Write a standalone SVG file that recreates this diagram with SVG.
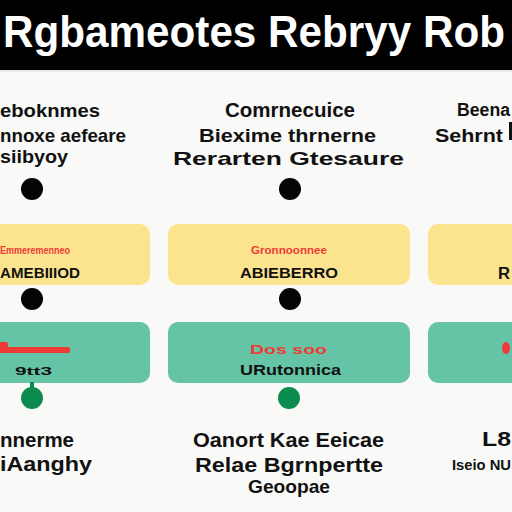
<svg xmlns="http://www.w3.org/2000/svg" width="512" height="512" viewBox="0 0 512 512">
<style>
.t{font-family:"Liberation Sans",Arial,sans-serif;font-weight:bold;fill:#111}
.w{fill:#fff}
.r{fill:#ee3b37}
.y{fill:#fce48f}
.g{fill:#66c4a6}
.bd{fill:#050505}
.gd{fill:#0b8b4d}
</style>
<rect width="512" height="512" fill="#f9f9f7"/>
<g id="header">
<rect x="0" y="0" width="512" height="70" fill="#000"/>
<rect x="0" y="70" width="512" height="2" fill="#e8e8e8"/>
<text class="t w" transform="translate(3,47) scale(1,1.08)" x="0" y="0" font-size="41" textLength="502" lengthAdjust="spacingAndGlyphs">Rgbameotes Rebryy Rob</text>
</g>
<g id="col1-head">
<text class="t" x="0" y="117" font-size="19" textLength="100" lengthAdjust="spacingAndGlyphs">eboknmes</text>
<text class="t" x="0" y="142" font-size="19" textLength="126" lengthAdjust="spacingAndGlyphs">nnoxe aefeare</text>
<text class="t" x="0" y="163" font-size="19" textLength="68" lengthAdjust="spacingAndGlyphs">siibyoy</text>
</g>
<g id="col2-head">
<text class="t" x="225" y="117" font-size="20" textLength="130" lengthAdjust="spacingAndGlyphs">Comrnecuice</text>
<text class="t" x="199" y="142" font-size="19" textLength="177" lengthAdjust="spacingAndGlyphs">Biexime thrnerne</text>
<text class="t" x="173" y="165" font-size="19" textLength="231" lengthAdjust="spacingAndGlyphs">Rerarten Gtesaure</text>
</g>
<g id="col3-head">
<text class="t" x="457" y="116" font-size="18" textLength="53" lengthAdjust="spacingAndGlyphs">Beena</text>
<text class="t" x="435" y="142" font-size="19" textLength="68" lengthAdjust="spacingAndGlyphs">Sehrnt</text>
<rect x="509" y="122" width="3" height="18" fill="#111"/>
</g>
<g id="dot-b1"><circle class="bd" cx="32" cy="189" r="11"/></g>
<g id="dot-b2"><circle class="bd" cx="290" cy="189" r="11"/></g>
<g id="box-y1">
<rect class="y" x="-12" y="224" width="162" height="61" rx="10"/>
<text class="t r" x="0" y="254" font-size="10" textLength="70" lengthAdjust="spacingAndGlyphs">Emmeremenneo</text>
<text class="t" x="0" y="278" font-size="15" textLength="80" lengthAdjust="spacingAndGlyphs">AMEBIIIOD</text>
</g>
<g id="box-y2">
<rect class="y" x="168" y="224" width="242" height="61" rx="10"/>
<text class="t r" x="251" y="254" font-size="10" textLength="76" lengthAdjust="spacingAndGlyphs">Gronnoonnee</text>
<text class="t" x="240" y="278" font-size="15" textLength="98" lengthAdjust="spacingAndGlyphs">ABIEBERRO</text>
</g>
<g id="box-y3">
<rect class="y" x="428" y="224" width="100" height="61" rx="10"/>
<text class="t" x="498" y="279" font-size="16" textLength="12" lengthAdjust="spacingAndGlyphs">R</text>
</g>
<g id="dot-b3"><circle class="bd" cx="32" cy="299" r="11"/></g>
<g id="dot-b4"><circle class="bd" cx="290" cy="299" r="11"/></g>
<g id="box-g1">
<rect class="g" x="-12" y="322" width="162" height="61" rx="10"/>
<rect class="r" x="-2" y="347" width="72" height="6" rx="2"/>
<rect class="r" x="-2" y="342" width="10" height="8" rx="2"/>
<text class="t" x="15" y="375" font-size="11" textLength="37" lengthAdjust="spacingAndGlyphs">9tt3</text>
</g>
<g id="box-g2">
<rect class="g" x="168" y="322" width="242" height="61" rx="10"/>
<text class="t r" x="250" y="354" font-size="12" textLength="77" lengthAdjust="spacingAndGlyphs">Dos soo</text>
<text class="t" x="240" y="375" font-size="15" textLength="101" lengthAdjust="spacingAndGlyphs">URutonnica</text>
</g>
<g id="box-g3">
<rect class="g" x="428" y="322" width="100" height="61" rx="10"/>
<ellipse class="r" cx="506" cy="348" rx="4" ry="6"/>
</g>
<g id="connectors">
<rect class="gd" x="30" y="382" width="4" height="10"/>
</g>
<g id="dot-g1"><circle class="gd" cx="32" cy="398" r="11"/></g>
<g id="dot-g2"><circle class="gd" cx="289" cy="398" r="11"/></g>
<g id="col1-foot">
<text class="t" x="0" y="447" font-size="20" textLength="74" lengthAdjust="spacingAndGlyphs">nnerme</text>
<text class="t" x="0" y="471" font-size="20" textLength="92" lengthAdjust="spacingAndGlyphs">iAanghy</text>
</g>
<g id="col2-foot">
<text class="t" x="193" y="447" font-size="20" textLength="191" lengthAdjust="spacingAndGlyphs">Oanort Kae Eeicae</text>
<text class="t" x="195" y="472" font-size="20" textLength="188" lengthAdjust="spacingAndGlyphs">Relae Bgrnpertte</text>
<text class="t" x="248" y="493" font-size="19" textLength="82" lengthAdjust="spacingAndGlyphs">Geoopae</text>
</g>
<g id="col3-foot">
<text class="t" x="482" y="446" font-size="20" textLength="29" lengthAdjust="spacingAndGlyphs">L8</text>
<text class="t" x="452" y="470" font-size="15" textLength="59" lengthAdjust="spacingAndGlyphs">Iseio NU</text>
</g>
</svg>
